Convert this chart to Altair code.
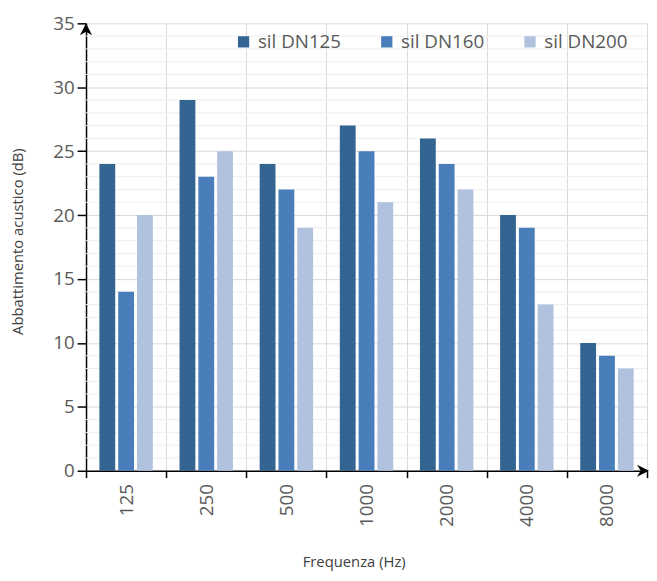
import altair as alt
import pandas as pd

# ---- data ----
frequencies = ["125", "250", "500", "1000", "2000", "4000", "8000"]
series_names = ["sil DN125", "sil DN160", "sil DN200"]
dn125 = [24, 29, 24, 27, 26, 20, 10]
dn160 = [14, 23, 22, 25, 24, 19, 9]
dn200 = [20, 25, 19, 21, 22, 13, 8]
y_major_ticks = [0, 5, 10, 15, 20, 25, 30, 35]
y_minor_ticks = [v for v in range(0, 36) if v % 5 != 0]
colors = ["#346592", "#4A7EBB", "#B0C2DD"]

rows = []
for name, vals in zip(series_names, [dn125, dn160, dn200]):
    for f, v in zip(frequencies, vals):
        rows.append({"freq": f, "serie": name, "value": v})
df = pd.DataFrame(rows)
minor_df = pd.DataFrame({"value": y_minor_ticks})

W, H = 568, 453
FONT = "Open Sans"
LABEL_COLOR = "#595959"
TICK_FS = 19

yscale = alt.Scale(domain=[0, 35], nice=False, zero=True)
y_axis = alt.Axis(
    title="Abbattimento acustico (dB)",
    values=y_major_ticks,
    labelFont=FONT,
    labelFontSize=TICK_FS,
    labelColor=LABEL_COLOR,
    labelPadding=3,
    tickColor="black",
    tickSize=9,
    tickWidth=1.5,
    domainColor="black",
    domainWidth=1.5,
    grid=True,
    gridColor="#d9d9d9",
    gridWidth=1,
    titleFont=FONT,
    titleFontSize=15,
    titleFontWeight="normal",
    titleColor="#404040",
    titleX=-69,
    titleY=H / 2 - 6,
    titleBaseline="middle",
)

minor = alt.Chart(minor_df).mark_rule(color="#eeeeee", strokeWidth=1).encode(
    y=alt.Y("value:Q", scale=yscale, axis=y_axis)
)

bars = alt.Chart(df).mark_bar().encode(
    x=alt.X(
        "freq:N",
        sort=frequencies,
        scale=alt.Scale(paddingInner=0, paddingOuter=0),
        axis=alt.Axis(
            title="Frequenza (Hz)",
            labelAngle=270,
            labelFont=FONT,
            labelFontSize=TICK_FS,
            labelColor=LABEL_COLOR,
            labelPadding=6,
            tickBand="extent",
            tickColor="black",
            tickSize=7,
            tickWidth=1.5,
            domainColor="black",
            domainWidth=1.5,
            grid=True,
            gridColor="#d9d9d9",
            gridWidth=1,
            titleFont=FONT,
            titleFontSize=15,
            titleFontWeight="normal",
            titleColor="#404040",
            titleX=271,
            titleY=92,
            titleBaseline="middle",
        ),
    ),
    xOffset=alt.XOffset(
        "serie:N",
        sort=series_names,
        scale=alt.Scale(paddingInner=0.158, paddingOuter=0.71),
    ),
    y=alt.Y("value:Q", scale=yscale, axis=y_axis),
    color=alt.Color(
        "serie:N",
        sort=series_names,
        scale=alt.Scale(domain=series_names, range=colors),
        legend=alt.Legend(
            title=None,
            orient="none",
            legendX=150,
            legendY=9,
            direction="horizontal",
            columns=3,
            columnPadding=36,
            symbolType="square",
            symbolSize=130,
            symbolStrokeWidth=0,
            labelFont=FONT,
            labelFontSize=19,
            labelColor=LABEL_COLOR,
            labelOffset=5,
        ),
    ),
)

arrow_df = pd.DataFrame({"a": [0]})
y_arrow = alt.Chart(arrow_df).mark_point(
    shape="M-1,1 L0,-1 L1,1 L0,0.4 Z", filled=True, color="black", opacity=1, size=150
).encode(x=alt.value(0), y=alt.value(6))
x_arrow = alt.Chart(arrow_df).mark_point(
    shape="M-1,-1 L1,0 L-1,1 L-0.4,0 Z", filled=True, color="black", opacity=1, size=150
).encode(x=alt.value(W - 4), y=alt.value(H))

chart = alt.layer(minor, bars, y_arrow, x_arrow).properties(
    width=W,
    height=H,
    autosize=alt.AutoSizeParams(type="none"),
    padding={"left": 79, "top": 12, "right": 2, "bottom": 100},
).configure_view(stroke=None)

chart.save("out.html", embed_options={"renderer": "svg", "actions": False})
